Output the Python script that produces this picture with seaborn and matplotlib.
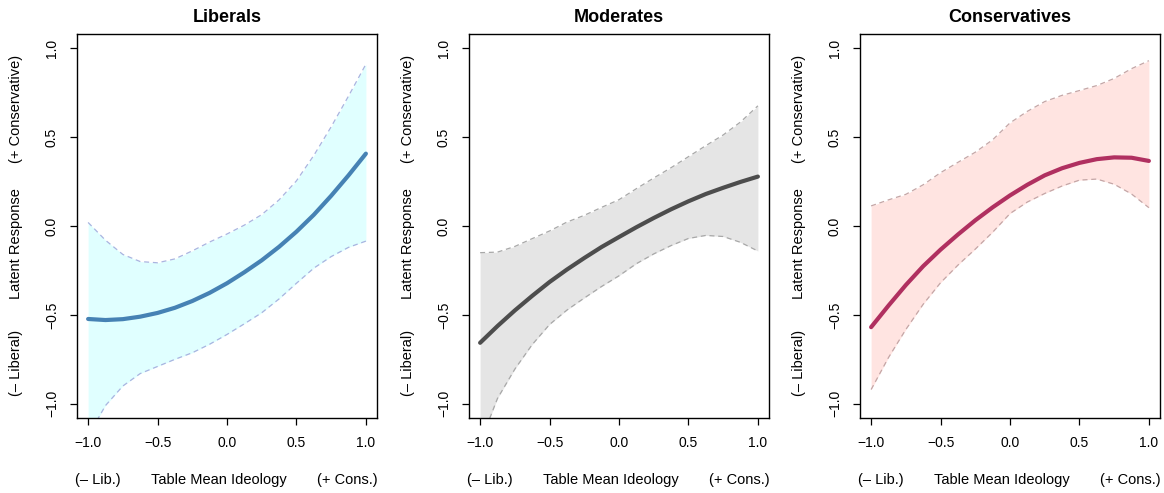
import numpy as np
import pandas as pd
import matplotlib
matplotlib.use("Agg")
import matplotlib.pyplot as plt
import matplotlib.transforms as mtransforms
import seaborn as sns

# valeurs (pas de 0.125 sur l'axe x)
x_grid = [-1.0, -0.875, -0.75, -0.625, -0.5, -0.375, -0.25, -0.125, 0.0,
          0.125, 0.25, 0.375, 0.5, 0.625, 0.75, 0.875, 1.0]

lib_mean = [-0.523, -0.529, -0.524, -0.510, -0.489, -0.460, -0.422, -0.376, -0.322,
            -0.260, -0.193, -0.117, -0.032, 0.063, 0.170, 0.285, 0.407]
lib_upper = [0.02, -0.08, -0.16, -0.20, -0.207, -0.185, -0.14, -0.09, -0.045,
             0.005, 0.064, 0.147, 0.254, 0.397, 0.558, 0.731, 0.91]
lib_lower = [-1.18, -1.01, -0.90, -0.83, -0.79, -0.75, -0.713, -0.665, -0.61,
             -0.55, -0.488, -0.41, -0.322, -0.237, -0.172, -0.12, -0.085]

mod_mean = [-0.657, -0.563, -0.475, -0.393, -0.315, -0.245, -0.180, -0.118, -0.062,
            -0.007, 0.045, 0.094, 0.139, 0.180, 0.215, 0.248, 0.278]
mod_upper = [-0.15, -0.147, -0.115, -0.071, -0.028, 0.022, 0.06, 0.105, 0.148,
             0.21, 0.27, 0.328, 0.39, 0.452, 0.512, 0.585, 0.676]
mod_lower = [-1.22, -0.97, -0.805, -0.667, -0.554, -0.473, -0.405, -0.34, -0.28,
             -0.212, -0.157, -0.11, -0.07, -0.053, -0.059, -0.092, -0.141]

con_mean = [-0.569, -0.448, -0.332, -0.226, -0.133, -0.048, 0.032, 0.105, 0.172,
            0.232, 0.285, 0.325, 0.355, 0.376, 0.386, 0.384, 0.366]
con_upper = [0.113, 0.147, 0.178, 0.232, 0.30, 0.358, 0.415, 0.485, 0.58,
             0.645, 0.70, 0.735, 0.762, 0.79, 0.83, 0.885, 0.93]
con_lower = [-0.92, -0.74, -0.582, -0.44, -0.319, -0.22, -0.13, -0.035, 0.07,
             0.135, 0.183, 0.225, 0.258, 0.264, 0.235, 0.18, 0.103]

panels = [
    ("Liberals", lib_mean, lib_lower, lib_upper, "#4682B4", "#E0FFFF", "#A9B4E0"),
    ("Moderates", mod_mean, mod_lower, mod_upper, "#4D4D4D", "#E5E5E5", "#A8A8A8"),
    ("Conservatives", con_mean, con_lower, con_upper, "#B03060", "#FFE4E1", "#C4A6A6"),
]

sns.set_theme(style="ticks")
plt.rcParams["font.family"] = ["Liberation Sans", "DejaVu Sans"]
plt.rcParams["text.color"] = "black"
plt.rcParams["axes.labelcolor"] = "black"

fig = plt.figure(figsize=(11.64, 4.93), dpi=100)
lefts = [77, 469, 860]

for left, (title, mean, lower, upper, lc, fc, dc) in zip(lefts, panels):
    ax = fig.add_axes([left / 1164, 75 / 493, 300 / 1164, 384 / 493])
    df = pd.DataFrame({"x": x_grid, "mean": mean, "lower": lower, "upper": upper})

    ax.fill_between(df["x"], df["lower"], df["upper"], color=fc, lw=0)
    sns.lineplot(data=df, x="x", y="upper", ax=ax, color=dc, lw=0.9,
                 linestyle=(0, (4, 3)))
    sns.lineplot(data=df, x="x", y="lower", ax=ax, color=dc, lw=0.9,
                 linestyle=(0, (4, 3)))
    sns.lineplot(data=df, x="x", y="mean", ax=ax, color=lc, lw=3.0,
                 solid_joinstyle="round", solid_capstyle="round")

    ax.set_xlim(-1.08, 1.08)
    ax.set_ylim(-1.08, 1.08)
    ticks = [-1.0, -0.5, 0.0, 0.5, 1.0]
    ax.set_xticks(ticks)
    ax.set_yticks(ticks)
    ax.set_xticklabels(["\u22121.0", "\u22120.5", "0.0", "0.5", "1.0"])
    ax.set_yticklabels(["\u22121.0", "\u22120.5", "0.0", "0.5", "1.0"],
                       rotation=90, va="center")
    ax.tick_params(axis="both", direction="out", length=5, width=0.9,
                   labelsize=10, colors="black", pad=8)
    for sp in ax.spines.values():
        sp.set_visible(True)
        sp.set_linewidth(1.0)
        sp.set_color("black")
    ax.set_xlabel("")
    ax.set_ylabel("")

    ax.text(0.5, 1.044, title, transform=ax.transAxes, ha="center",
            va="center", fontsize=13, fontweight="bold", color="black")

    tx = mtransforms.blended_transform_factory(ax.transData, ax.transAxes)
    for xp, s in [(-0.93, "(\u2013 Lib.)"), (-0.056, "Table Mean Ideology"),
                  (0.868, "(+ Cons.)")]:
        ax.text(xp, -0.161, s, transform=tx, ha="center", va="center",
                fontsize=10.5, color="black")

    ty = mtransforms.blended_transform_factory(ax.transAxes, ax.transData)
    for yp, s in [(-0.77, "(\u2013 Liberal)"), (-0.10, "Latent Response"),
                  (0.66, "(+ Conservative)")]:
        ax.text(-0.203, yp, s, transform=ty, ha="center", va="center",
                rotation=90, fontsize=10.5, color="black")

fig.savefig("out.png", dpi=100)
